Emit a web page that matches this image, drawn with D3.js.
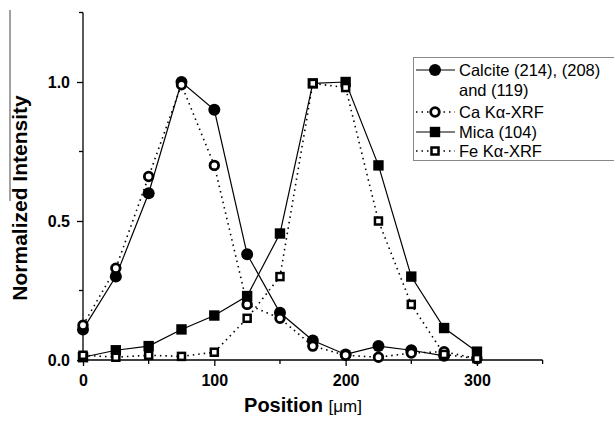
<!DOCTYPE html>
<html>
<head>
<meta charset="utf-8">
<script src="https://cdn.jsdelivr.net/npm/d3@7"></script>
<style>
  body { margin: 0; background: #fff; }
  text { font-family: "Liberation Sans", Arial, sans-serif; }
</style>
</head>
<body>
<script>
// positions in micrometres
var positions = [0, 25, 50, 75, 100, 125, 150, 175, 200, 225, 250, 275, 300];

var calcite = [0.11, 0.30, 0.60, 1.00, 0.90, 0.38, 0.17, 0.07, 0.02, 0.05, 0.035, 0.015];
var caXrf   = [0.125, 0.33, 0.66, 0.99, 0.70, 0.20, 0.15, 0.05, 0.017, 0.01, 0.025, 0.03, 0.005];
var mica    = [0.01, 0.035, 0.05, 0.11, 0.16, 0.23, 0.455, 0.995, 1.00, 0.70, 0.30, 0.115, 0.03];
var feXrf   = [0.017, 0.01, 0.017, 0.013, 0.028, 0.15, 0.30, 0.995, 0.98, 0.50, 0.20, 0.02, 0.005];

var xMajor = [0, 100, 200, 300];
var xMinor = [50, 150, 250, 350];
var yMajor = [0, 0.5, 1.0];
var yMinor = [0.25, 0.75, 1.25];

var legendLabels = [["Calcite (214), (208)", "and (119)"], ["Ca K\u03b1-XRF"], ["Mica (104)"], ["Fe K\u03b1-XRF"]];

var width = 614, height = 421;
var svg = d3.select('body').append('svg')
    .attr('width', width)
    .attr('height', height);

var x = d3.scaleLinear().domain([0, 350]).range([83, 542.6]);
var y = d3.scaleLinear().domain([0, 1.25]).range([360, 12.5]);

// axes
var xAxis = svg.append('g').attr('transform', 'translate(0,360)');
xAxis.call(d3.axisBottom(x).tickValues(xMajor).tickSize(6).tickFormat(d3.format('d')));
xAxis.selectAll('.minor').data(xMinor).enter().append('line')
    .attr('class', 'minor')
    .attr('x1', function (d) { return x(d); })
    .attr('x2', function (d) { return x(d); })
    .attr('y1', 0).attr('y2', 4)
    .attr('stroke', '#000').attr('stroke-width', 1.3);
xAxis.select('.domain').attr('d', 'M' + x(0) + ',0H' + x(350)).attr('stroke-width', 1.3);
xAxis.selectAll('.tick line').attr('stroke-width', 1.3);
xAxis.selectAll('.tick text')
    .attr('dy', '1.05em')
    .attr('font-size', 16).attr('font-weight', 'bold')
    .attr('font-family', '"Liberation Sans", Arial, sans-serif');

var yAxis = svg.append('g').attr('transform', 'translate(83,0)');
yAxis.call(d3.axisLeft(y).tickValues(yMajor).tickSize(6).tickFormat(d3.format('.1f')));
yAxis.selectAll('.minor').data(yMinor).enter().append('line')
    .attr('class', 'minor')
    .attr('x1', 0).attr('x2', -4)
    .attr('y1', function (d) { return y(d); })
    .attr('y2', function (d) { return y(d); })
    .attr('stroke', '#000').attr('stroke-width', 1.3);
yAxis.select('.domain').attr('d', 'M0,' + y(1.25) + 'V' + y(0)).attr('stroke-width', 1.3);
yAxis.selectAll('.tick line').attr('stroke-width', 1.3);
yAxis.selectAll('.tick text')
    .attr('x', -13)
    .attr('font-size', 16).attr('font-weight', 'bold')
    .attr('font-family', '"Liberation Sans", Arial, sans-serif');

// axis titles
svg.append('text')
    .attr('transform', 'translate(27,198) rotate(-90)')
    .attr('text-anchor', 'middle')
    .attr('font-size', 21).attr('font-weight', 'bold')
    .text('Normalized Intensity');
svg.append('line')
    .attr('x1', 10).attr('x2', 10).attr('y1', 10).attr('y2', 201)
    .attr('stroke', '#444').attr('stroke-width', 1);

var xt = svg.append('text')
    .attr('x', 303).attr('y', 412)
    .attr('text-anchor', 'middle');
xt.append('tspan').attr('font-size', 20).attr('font-weight', 'bold').text('Position ');
xt.append('tspan').attr('font-size', 17).text('[\u03bcm]');

// series
var series = [
    { values: calcite, dash: null, shape: 'circle', filled: true },
    { values: caXrf, dash: '1.5,4', shape: 'circle', filled: false },
    { values: mica, dash: null, shape: 'square', filled: true },
    { values: feXrf, dash: '1.5,4', shape: 'square', filled: false }
];

var line = d3.line()
    .x(function (d) { return x(d[0]); })
    .y(function (d) { return y(d[1]); });

function drawMarker(g, s, cx, cy) {
    if (s.shape === 'circle') {
        g.append('circle')
            .attr('cx', cx).attr('cy', cy)
            .attr('r', s.filled ? 6 : 4.3)
            .attr('fill', s.filled ? '#000' : '#fff')
            .attr('stroke', '#000').attr('stroke-width', s.filled ? 0 : 2.8);
    } else {
        var h = s.filled ? 5.2 : 3.5;
        g.append('rect')
            .attr('x', cx - h).attr('y', cy - h)
            .attr('width', 2 * h).attr('height', 2 * h)
            .attr('fill', s.filled ? '#000' : '#fff')
            .attr('stroke', '#000').attr('stroke-width', s.filled ? 0 : 2.5);
    }
}

series.forEach(function (s) {
    var pts = s.values.map(function (v, i) { return [positions[i], v]; });
    var g = svg.append('g');
    g.append('path')
        .attr('d', line(pts))
        .attr('fill', 'none')
        .attr('stroke', '#000')
        .attr('stroke-width', s.dash ? 1.6 : 1.2)
        .attr('stroke-dasharray', s.dash);
    pts.forEach(function (p) { drawMarker(g, s, x(p[0]), y(p[1])); });
});

// legend
var lg = svg.append('g');
lg.append('rect')
    .attr('x', 413.5).attr('y', 57.5)
    .attr('width', 210).attr('height', 103)
    .attr('fill', '#fff').attr('stroke', '#888').attr('stroke-width', 1);

var rowY = [70, 112, 132, 151];
series.forEach(function (s, i) {
    var yy = rowY[i];
    lg.append('line')
        .attr('x1', 416).attr('x2', 455).attr('y1', yy).attr('y2', yy)
        .attr('stroke', '#000')
        .attr('stroke-width', s.dash ? 1.6 : 1.2)
        .attr('stroke-dasharray', s.dash);
    drawMarker(lg, s, 435, yy);
    legendLabels[i].forEach(function (t, j) {
        lg.append('text')
            .attr('x', 459).attr('y', yy + j * 20)
            .attr('dy', '0.36em')
            .attr('font-size', 16.5)
            .text(t);
    });
});
</script>
</body>
</html>
